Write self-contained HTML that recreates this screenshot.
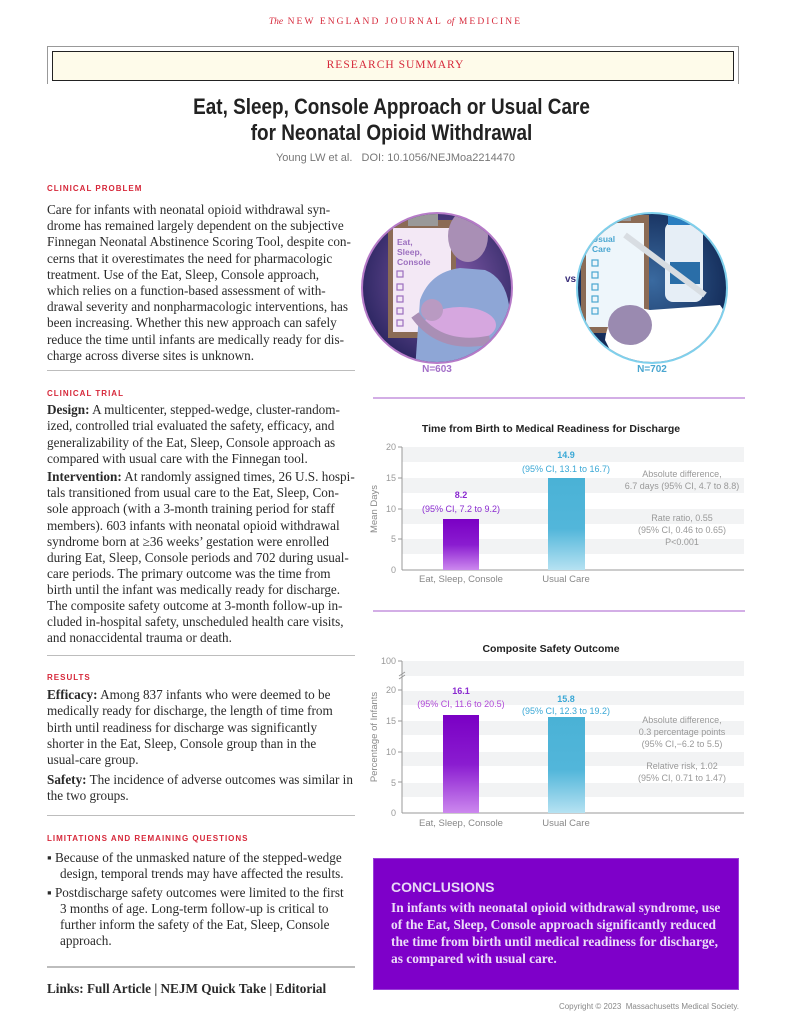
<!DOCTYPE html>
<html><head><meta charset="utf-8"><style>
*{margin:0;padding:0;box-sizing:border-box}
body{width:791px;height:1024px;background:#fff;position:relative;overflow:hidden;font-family:"Liberation Serif",serif;color:#231f20}
.a{position:absolute;white-space:nowrap}
.t{position:absolute;left:47px;font-size:13.2px;line-height:18px;white-space:nowrap;color:#2a2a2a}
.h{position:absolute;left:47px;font-family:"Liberation Sans",sans-serif;font-weight:bold;font-size:8px;letter-spacing:1px;color:#d6283a}
.rule{position:absolute;left:47px;width:308px;height:1px;background:#bdbdbd}
.s{font-family:"Liberation Sans",sans-serif}
</style></head><body>
<div class="a" style="left:0;width:791px;text-align:center;top:17px;font-size:9.5px;letter-spacing:2.1px;color:#d6283a"><i style="letter-spacing:0">The</i> NEW ENGLAND JOURNAL <i style="letter-spacing:0">of</i> MEDICINE</div>
<div class="a" style="left:47px;top:46px;width:692px;height:38px;border:1px solid #999;border-bottom:none"></div>
<div class="a" style="left:52px;top:51px;width:682px;height:30px;border:1.5px solid #222;background:#fefbea"></div>
<div class="a" style="left:0;width:791px;text-align:center;top:59px;font-size:11.5px;letter-spacing:1px;color:#d6283a">RESEARCH SUMMARY</div>
<div class="a s" style="left:0;width:783px;text-align:center;top:94px;font-size:22px;line-height:26px;font-weight:bold;color:#222;transform:scaleX(.86)">Eat, Sleep, Console Approach or Usual Care<br>for Neonatal Opioid Withdrawal</div>
<div class="a s" style="left:0;width:791px;text-align:center;top:152px;font-size:11px;color:#777">Young LW et al. &nbsp;&nbsp;DOI: 10.1056/NEJMoa2214470</div>

<div class="h" style="top:184px">CLINICAL PROBLEM</div>
<div class="t" style="top:201px">Care for infants with neonatal opioid withdrawal syn-</div>
<div class="t" style="top:217px">drome has remained largely dependent on the subjective</div>
<div class="t" style="top:233px">Finnegan Neonatal Abstinence Scoring Tool, despite con-</div>
<div class="t" style="top:250px">cerns that it overestimates the need for pharmacologic</div>
<div class="t" style="top:266px">treatment. Use of the Eat, Sleep, Console approach,</div>
<div class="t" style="top:282px">which relies on a function-based assessment of with-</div>
<div class="t" style="top:298px">drawal severity and nonpharmacologic interventions, has</div>
<div class="t" style="top:314px">been increasing. Whether this new approach can safely</div>
<div class="t" style="top:331px">reduce the time until infants are medically ready for dis-</div>
<div class="t" style="top:347px">charge across diverse sites is unknown.</div>
<div class="rule" style="top:370px"></div>

<div class="h" style="top:389px">CLINICAL TRIAL</div>
<div class="t" style="top:401px"><b>Design:</b> A multicenter, stepped-wedge, cluster-random-</div>
<div class="t" style="top:417px">ized, controlled trial evaluated the safety, efficacy, and</div>
<div class="t" style="top:434px">generalizability of the Eat, Sleep, Console approach as</div>
<div class="t" style="top:450px">compared with usual care with the Finnegan tool.</div>
<div class="t" style="top:468px"><b>Intervention:</b> At randomly assigned times, 26 U.S. hospi-</div>
<div class="t" style="top:484px">tals transitioned from usual care to the Eat, Sleep, Con-</div>
<div class="t" style="top:500px">sole approach (with a 3-month training period for staff</div>
<div class="t" style="top:517px">members). 603 infants with neonatal opioid withdrawal</div>
<div class="t" style="top:533px">syndrome born at ≥36 weeks’ gestation were enrolled</div>
<div class="t" style="top:549px">during Eat, Sleep, Console periods and 702 during usual-</div>
<div class="t" style="top:565px">care periods. The primary outcome was the time from</div>
<div class="t" style="top:581px">birth until the infant was medically ready for discharge.</div>
<div class="t" style="top:597px">The composite safety outcome at 3-month follow-up in-</div>
<div class="t" style="top:613px">cluded in-hospital safety, unscheduled health care visits,</div>
<div class="t" style="top:629px">and nonaccidental trauma or death.</div>
<div class="rule" style="top:655px"></div>

<div class="h" style="top:673px">RESULTS</div>
<div class="t" style="top:686px"><b>Efficacy:</b> Among 837 infants who were deemed to be</div>
<div class="t" style="top:702px">medically ready for discharge, the length of time from</div>
<div class="t" style="top:719px">birth until readiness for discharge was significantly</div>
<div class="t" style="top:735px">shorter in the Eat, Sleep, Console group than in the</div>
<div class="t" style="top:751px">usual-care group.</div>
<div class="t" style="top:771px"><b>Safety:</b> The incidence of adverse outcomes was similar in</div>
<div class="t" style="top:787px">the two groups.</div>
<div class="rule" style="top:815px"></div>

<div class="h" style="top:834px">LIMITATIONS AND REMAINING QUESTIONS</div>
<div class="t" style="top:849px">▪ Because of the unmasked nature of the stepped-wedge</div>
<div class="t" style="top:865px;left:60px">design, temporal trends may have affected the results.</div>
<div class="t" style="top:884px">▪ Postdischarge safety outcomes were limited to the first</div>
<div class="t" style="top:900px;left:60px">3 months of age. Long-term follow-up is critical to</div>
<div class="t" style="top:916px;left:60px">further inform the safety of the Eat, Sleep, Console</div>
<div class="t" style="top:932px;left:60px">approach.</div>
<div class="rule" style="top:966px;height:2px"></div>
<div class="t" style="top:980px;font-weight:bold">Links: Full Article | NEJM Quick Take | Editorial</div>

<!-- Illustrations -->
<svg class="a" style="left:360px;top:190px" width="420" height="190" viewBox="0 0 420 190">
<defs>
<radialGradient id="g1" cx=".55" cy=".45" r=".6"><stop offset="0" stop-color="#8a5fb0"/><stop offset="1" stop-color="#2a2560"/></radialGradient>
<radialGradient id="g2" cx=".5" cy=".45" r=".6"><stop offset="0" stop-color="#3a6aa0"/><stop offset="1" stop-color="#0f2450"/></radialGradient>
<clipPath id="c1"><circle cx="77" cy="98" r="74"/></clipPath>
<clipPath id="c2"><circle cx="292" cy="98" r="74"/></clipPath>
</defs>
<circle cx="77" cy="98" r="76" fill="#b67bc8"/>
<circle cx="77" cy="98" r="74" fill="url(#g1)"/>
<g clip-path="url(#c1)">
<rect x="28" y="30" width="68" height="118" fill="#8b6b55"/>
<rect x="33" y="38" width="58" height="104" fill="#f3e8f5"/>
<rect x="48" y="24" width="30" height="12" fill="#999"/>
<text x="37" y="55" font-family="Liberation Sans" font-weight="bold" font-size="8.5" fill="#9c6fbf">Eat,</text>
<text x="37" y="65" font-family="Liberation Sans" font-weight="bold" font-size="8.5" fill="#9c6fbf">Sleep,</text>
<text x="37" y="75" font-family="Liberation Sans" font-weight="bold" font-size="8.5" fill="#9c6fbf">Console</text>
<g fill="none" stroke="#9c6fbf" stroke-width="1.2"><rect x="37" y="81" width="6" height="6"/><rect x="37" y="94" width="6" height="6"/><rect x="37" y="106" width="6" height="6"/><rect x="37" y="118" width="6" height="6"/><rect x="37" y="130" width="6" height="6"/></g>
<ellipse cx="108" cy="46" rx="20" ry="26" fill="#a98fb5"/>
<path d="M60 110 Q70 82 100 78 L125 80 Q150 90 150 130 L150 180 L55 180 Z" fill="#8ea6d6"/>
<ellipse cx="100" cy="135" rx="36" ry="18" fill="#d6a7df"/>
<circle cx="72" cy="120" r="11" fill="#b99ac2"/>
<path d="M55 125 Q80 160 130 150" stroke="#a98fb5" stroke-width="9" fill="none"/>
</g>
<text x="205" y="92" font-family="Liberation Sans" font-weight="bold" font-size="10" fill="#3a2f7a">vs.</text>
<circle cx="292" cy="98" r="76" fill="#7fd0ec"/>
<circle cx="292" cy="98" r="74" fill="url(#g2)"/>
<g clip-path="url(#c2)">
<rect x="221" y="25" width="68" height="118" fill="#8b6b55"/>
<rect x="226" y="33" width="58" height="104" fill="#eef6fb"/>
<rect x="241" y="19" width="30" height="12" fill="#999"/>
<text x="232" y="52" font-family="Liberation Sans" font-weight="bold" font-size="8.5" fill="#4aa6d0">Usual</text>
<text x="232" y="62" font-family="Liberation Sans" font-weight="bold" font-size="8.5" fill="#4aa6d0">Care</text>
<g fill="none" stroke="#4aa6d0" stroke-width="1.2"><rect x="232" y="70" width="6" height="6"/><rect x="232" y="82" width="6" height="6"/><rect x="232" y="94" width="6" height="6"/><rect x="232" y="106" width="6" height="6"/><rect x="232" y="118" width="6" height="6"/></g>
<rect x="305" y="32" width="38" height="80" rx="8" fill="#e6eef6"/>
<rect x="308" y="25" width="32" height="10" fill="#2a7ec0"/>
<rect x="310" y="72" width="30" height="22" fill="#2a6ea8"/>
<line x1="265" y1="45" x2="345" y2="105" stroke="#d8dde2" stroke-width="6"/>
<path d="M245 150 Q250 110 290 120 L360 115 Q380 140 360 175 L260 180 Z" fill="#fff"/>
<ellipse cx="270" cy="135" rx="22" ry="20" fill="#9a8ab0"/>
</g>
<text x="77" y="182" text-anchor="middle" font-family="Liberation Sans" font-weight="bold" font-size="10" fill="#a36fc8">N=603</text>
<text x="292" y="182" text-anchor="middle" font-family="Liberation Sans" font-weight="bold" font-size="10" fill="#4aa6d0">N=702</text>
</svg>

<!-- Charts -->
<svg class="a" style="left:360px;top:395px" width="400" height="440" viewBox="0 0 400 440" font-family="Liberation Sans">
<defs>
<linearGradient id="bp" x1="0" y1="0" x2="0" y2="1"><stop offset="0" stop-color="#7a00c4"/><stop offset=".5" stop-color="#8a1cd0"/><stop offset="1" stop-color="#cc88ee"/></linearGradient>
<linearGradient id="bb" x1="0" y1="0" x2="0" y2="1"><stop offset="0" stop-color="#4ab2d6"/><stop offset=".55" stop-color="#52b6da"/><stop offset="1" stop-color="#b6e2f2"/></linearGradient>
</defs>
<line x1="13" y1="3" x2="385" y2="3" stroke="#b97ed8" stroke-width="1.2"/>
<text x="191" y="37" text-anchor="middle" font-size="10.5" font-weight="bold" fill="#222">Time from Birth to Medical Readiness for Discharge</text>
<g fill="#f2f3f4"><rect x="42" y="52" width="342" height="15"/><rect x="42" y="83" width="342" height="15"/><rect x="42" y="114" width="342" height="15"/><rect x="42" y="144" width="342" height="15"/></g>
<line x1="42" y1="52" x2="42" y2="175" stroke="#999"/><line x1="42" y1="175" x2="384" y2="175" stroke="#999"/>
<g font-size="9" fill="#999" text-anchor="end"><text x="36" y="55">20</text><text x="36" y="86">15</text><text x="36" y="117">10</text><text x="36" y="147">5</text><text x="36" y="178">0</text></g>
<g stroke="#999"><line x1="38" y1="52" x2="42" y2="52"/><line x1="38" y1="83" x2="42" y2="83"/><line x1="38" y1="114" x2="42" y2="114"/><line x1="38" y1="144" x2="42" y2="144"/></g>
<text transform="translate(17 114) rotate(-90)" text-anchor="middle" font-size="9.5" fill="#888">Mean Days</text>
<rect x="83" y="124" width="36" height="51" fill="url(#bp)"/>
<rect x="188" y="83" width="37" height="92" fill="url(#bb)"/>
<text x="101" y="103" text-anchor="middle" font-size="9" font-weight="bold" fill="#8a2ad0">8.2</text>
<text x="101" y="117" text-anchor="middle" font-size="9" fill="#8a2ad0">(95% CI, 7.2 to 9.2)</text>
<text x="206" y="63" text-anchor="middle" font-size="9" font-weight="bold" fill="#3aa8d6">14.9</text>
<text x="206" y="77" text-anchor="middle" font-size="9" fill="#3aa8d6">(95% CI, 13.1 to 16.7)</text>
<g font-size="9" fill="#999" text-anchor="middle"><text x="322" y="82">Absolute difference,</text><text x="322" y="94">6.7 days (95% CI, 4.7 to 8.8)</text>
<text x="322" y="126">Rate ratio, 0.55</text><text x="322" y="138">(95% CI, 0.46 to 0.65)</text><text x="322" y="150">P&lt;0.001</text></g>
<text x="101" y="187" text-anchor="middle" font-size="9.5" fill="#888">Eat, Sleep, Console</text>
<text x="206" y="187" text-anchor="middle" font-size="9.5" fill="#888">Usual Care</text>
<line x1="13" y1="216" x2="385" y2="216" stroke="#b97ed8" stroke-width="1.2"/>

<text x="191" y="257" text-anchor="middle" font-size="10.5" font-weight="bold" fill="#222">Composite Safety Outcome</text>
<g fill="#f2f3f4"><rect x="42" y="266" width="342" height="15"/><rect x="42" y="296" width="342" height="14"/><rect x="42" y="326" width="342" height="14"/><rect x="42" y="357" width="342" height="14"/><rect x="42" y="388" width="342" height="14"/></g>
<line x1="42" y1="266" x2="42" y2="418" stroke="#999"/><line x1="42" y1="418" x2="384" y2="418" stroke="#999"/>
<g font-size="9" fill="#999" text-anchor="end"><text x="36" y="269">100</text><text x="36" y="298">20</text><text x="36" y="329">15</text><text x="36" y="360">10</text><text x="36" y="391">5</text><text x="36" y="421">0</text></g>
<g stroke="#999"><line x1="38" y1="266" x2="42" y2="266"/><line x1="38" y1="295" x2="42" y2="295"/><line x1="38" y1="326" x2="42" y2="326"/><line x1="38" y1="357" x2="42" y2="357"/><line x1="38" y1="387" x2="42" y2="387"/><path d="M39 281 L45 277 M39 284 L45 280" /></g>
<text transform="translate(17 342) rotate(-90)" text-anchor="middle" font-size="9.5" fill="#888">Percentage of Infants</text>
<rect x="83" y="320" width="36" height="98" fill="url(#bp)"/>
<rect x="188" y="322" width="37" height="96" fill="url(#bb)"/>
<text x="101" y="299" text-anchor="middle" font-size="9" font-weight="bold" fill="#8a2ad0">16.1</text>
<text x="101" y="312" text-anchor="middle" font-size="9" fill="#b04ad8">(95% CI, 11.6 to 20.5)</text>
<text x="206" y="307" text-anchor="middle" font-size="9" font-weight="bold" fill="#3aa8d6">15.8</text>
<text x="206" y="319" text-anchor="middle" font-size="9" fill="#3aa8d6">(95% CI, 12.3 to 19.2)</text>
<g font-size="9" fill="#999" text-anchor="middle"><text x="322" y="328">Absolute difference,</text><text x="322" y="340">0.3 percentage points</text><text x="322" y="352">(95% CI,−6.2 to 5.5)</text>
<text x="322" y="374">Relative risk, 1.02</text><text x="322" y="386">(95% CI, 0.71 to 1.47)</text></g>
<text x="101" y="431" text-anchor="middle" font-size="9.5" fill="#888">Eat, Sleep, Console</text>
<text x="206" y="431" text-anchor="middle" font-size="9.5" fill="#888">Usual Care</text>
</svg>

<div class="a" style="left:373px;top:858px;width:366px;height:132px;background:#7e00c9;border:1px solid #9a40d8"></div>
<div class="a s" style="left:391px;top:879px;font-size:14px;font-weight:bold;color:#e8d8f6">CONCLUSIONS</div>
<div class="a" style="left:391px;top:899px;font-size:13.4px;line-height:17px;font-weight:bold;color:#ecdcf8">In infants with neonatal opioid withdrawal syndrome, use<br>of the Eat, Sleep, Console approach significantly reduced<br>the time from birth until medical readiness for discharge,<br>as compared with usual care.</div>
<div class="a s" style="right:52px;top:1002px;font-size:8px;color:#888">Copyright © 2023 &nbsp;Massachusetts Medical Society.</div>
</body></html>
